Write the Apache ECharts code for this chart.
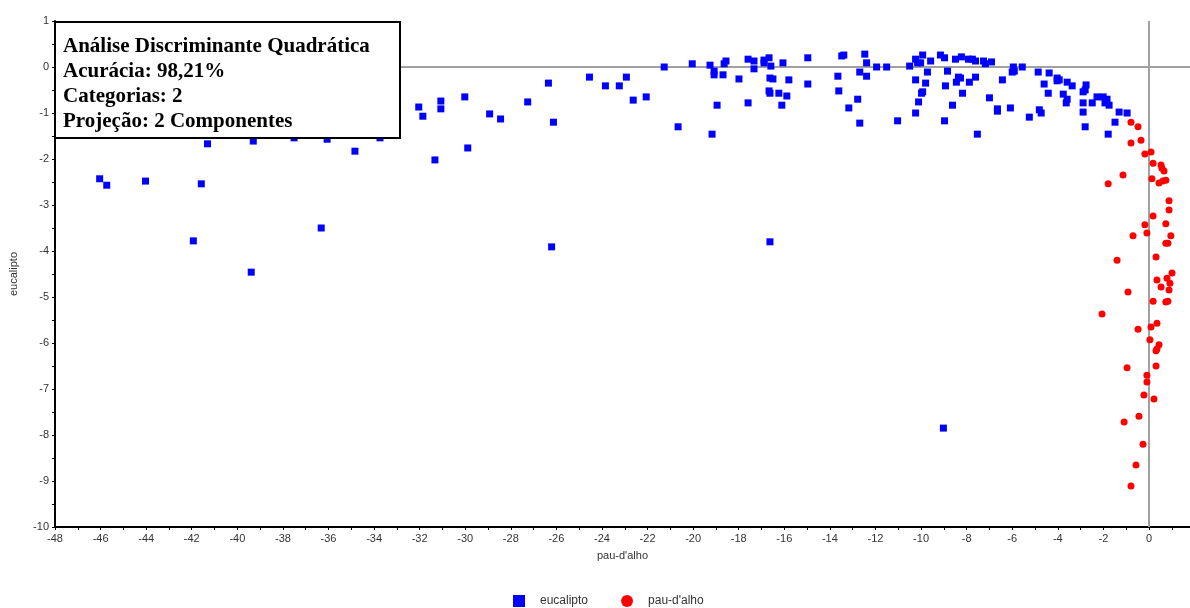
<!DOCTYPE html>
<html>
<head>
<meta charset="utf-8">
<script src="https://cdn.jsdelivr.net/npm/echarts@6/dist/echarts.min.js"></script>
<style>html,body{margin:0;padding:0;background:#fff}#c{width:1190px;height:608px}</style>
</head>
<body>
<div id="c"></div>
<script>
const seriesNames = ["eucalipto", "pau-d'alho"];
const eucalipto = [
[-46.04,-2.43],[-45.73,-2.57],[-44.03,-2.48],[-41.58,-2.54],[-41.93,-3.78],[-39.39,-4.46],[-41.31,-1.67],[-39.30,-1.61],
[-37.51,-1.54],[-36.06,-1.57],[-36.32,-3.50],[-34.84,-1.83],[-33.74,-1.54],[-32.04,-0.87],[-31.86,-1.07],[-31.33,-2.02],
[-31.07,-0.74],[-31.07,-0.91],[-30.02,-0.65],[-29.89,-1.76],[-28.93,-1.02],[-28.45,-1.13],[-27.26,-0.76],[-26.35,-0.35],
[-26.13,-1.20],[-26.21,-3.91],[-24.55,-0.22],[-23.85,-0.41],[-23.24,-0.41],[-22.93,-0.22],[-22.63,-0.72],[-22.06,-0.65],
[-21.27,0.00],[-20.66,-1.30],[-20.04,0.07],[-19.26,0.04],[-19.08,-0.09],[-19.08,-0.17],[-18.95,-0.83],[-19.17,-1.46],
[-18.69,-0.17],[-18.56,0.13],[-18.64,0.07],[-17.99,-0.26],[-17.59,0.17],[-17.33,0.13],[-17.33,-0.04],[-17.59,-0.78],
[-16.89,0.15],[-16.67,0.20],[-16.89,0.09],[-16.59,0.02],[-16.63,-0.24],[-16.50,-0.26],[-16.67,-0.52],[-16.63,-0.57],
[-16.24,-0.57],[-15.89,-0.63],[-16.06,0.09],[-15.80,-0.28],[-16.11,-0.83],[-16.63,-3.80],[-14.97,0.20],[-14.97,-0.37],
[-13.65,-0.20],[-13.61,-0.52],[-13.48,0.24],[-13.39,0.26],[-12.78,-0.70],[-13.17,-0.89],[-12.69,-1.22],[-12.47,0.28],
[-12.39,0.09],[-12.69,-0.11],[-12.39,-0.20],[-11.95,0.00],[-11.51,0.00],[-11.03,-1.17],[-10.50,0.02],[-10.24,-0.28],
[-10.24,0.17],[-10.15,0.09],[-9.93,0.26],[-10.02,0.09],[-9.58,0.13],[-9.72,-0.11],[-9.80,-0.35],[-9.93,-0.54],
[-9.98,-0.57],[-10.11,-0.76],[-10.24,-1.00],[-9.15,0.26],[-8.97,0.20],[-8.84,-0.09],[-8.93,-0.41],[-8.49,0.17],
[-8.23,0.22],[-8.45,-0.33],[-8.36,-0.22],[-8.27,-0.24],[-8.18,-0.57],[-8.62,-0.83],[-8.97,-1.17],[-9.02,-7.85],
[-7.88,-0.33],[-7.92,0.17],[-7.75,0.17],[-7.61,0.13],[-7.53,-1.46],[-7.61,-0.22],[-7.26,0.13],[-7.18,0.07],
[-6.91,0.11],[-6.43,-0.28],[-5.95,0.00],[-5.56,0.00],[-6.00,-0.11],[-5.91,-0.09],[-4.86,-0.11],[-4.38,-0.13],
[-4.03,-0.24],[-3.94,-0.28],[-4.03,-0.30],[-3.59,-0.33],[-3.37,-0.41],[-4.60,-0.37],[-4.42,-0.57],[-3.76,-0.59],
[-3.59,-0.70],[-3.63,-0.78],[-2.76,-0.39],[-2.80,-0.50],[-2.89,-0.54],[-7.00,-0.67],[-6.65,-0.91],[-6.65,-0.96],
[-6.08,-0.89],[-5.25,-1.09],[-4.81,-0.93],[-4.73,-1.00],[-2.89,-0.78],[-2.49,-0.78],[-2.28,-0.65],[-2.01,-0.65],
[-1.84,-0.70],[-1.93,-0.78],[-1.75,-0.83],[-2.89,-0.98],[-2.80,-1.30],[-1.31,-0.98],[-0.96,-1.00],[-1.49,-1.20],
[-1.79,-1.46]
];
const pauDalho = [
[-0.79,-1.20],[-0.48,-1.30],[-0.79,-1.65],[-0.35,-1.59],[-0.18,-1.89],[0.09,-1.85],[0.18,-2.09],[0.53,-2.13],
[0.57,-2.20],[0.66,-2.26],[0.13,-2.43],[-1.14,-2.35],[-1.79,-2.54],[0.44,-2.52],[0.61,-2.48],[0.74,-2.46],
[0.88,-2.91],[0.88,-3.11],[0.18,-3.24],[-0.18,-3.43],[0.74,-3.41],[-0.09,-3.61],[-0.70,-3.67],[0.96,-3.67],
[0.74,-3.83],[0.83,-3.83],[0.31,-4.13],[-1.40,-4.20],[1.01,-4.48],[0.35,-4.63],[0.79,-4.59],[0.92,-4.70],
[0.88,-4.85],[0.53,-4.78],[-0.92,-4.89],[0.18,-5.09],[0.74,-5.11],[0.83,-5.09],[-2.06,-5.37],[0.35,-5.57],
[0.09,-5.65],[-0.48,-5.70],[0.04,-5.93],[0.44,-6.04],[0.35,-6.13],[0.31,-6.17],[0.31,-6.50],[-0.96,-6.54],
[-0.09,-6.70],[-0.09,-6.85],[-0.22,-7.13],[0.22,-7.22],[-1.09,-7.72],[-0.44,-7.59],[-0.26,-8.20],[-0.57,-8.65],
[-0.79,-9.11]
];
const xAxisName = "pau-d'alho";
const yAxisName = "eucalipto";
const infoLines = ["Análise Discriminante Quadrática", "Acurácia: 98,21%", "Categorias: 2", "Projeção: 2 Componentes"];

const chart = echarts.init(document.getElementById('c'), null, {renderer: 'canvas'});
const labelStyle = {color: '#333', fontSize: 11, fontFamily: 'Liberation Sans, Arial, sans-serif'};
chart.setOption({
  animation: false,
  backgroundColor: '#fff',
  grid: {left: 54, right: 0, top: 21, bottom: 81, containLabel: false},
  legend: {
    bottom: -4, left: 508, itemGap: 33, itemWidth: 12, itemHeight: 12,
    textStyle: {...labelStyle, fontSize: 12, padding: [0, 0, 0, 10]},
    data: [{name: seriesNames[0], icon: 'rect'}, {name: seriesNames[1], icon: 'circle'}]
  },
  xAxis: {
    type: 'value', min: -48, max: 1.8, interval: 2,
    name: xAxisName, nameLocation: 'middle', nameGap: 23, nameTextStyle: labelStyle,
    axisLine: {onZero: false, lineStyle: {color: '#000', width: 2}},
    axisTick: {show: true, length: 3, inside: false, lineStyle: {color: '#000'}},
    minorTick: {show: true, splitNumber: 2, length: 3, lineStyle: {color: '#000'}},
    axisLabel: {showMaxLabel: false, margin: 6, ...labelStyle},
    splitLine: {show: false}
  },
  yAxis: {
    type: 'value', min: -10, max: 1, interval: 1,
    name: yAxisName, nameLocation: 'middle', nameGap: 36, nameRotate: 90, nameTextStyle: labelStyle,
    axisLine: {onZero: false, lineStyle: {color: '#000', width: 2}},
    axisTick: {show: true, length: 3, lineStyle: {color: '#000'}},
    minorTick: {show: true, splitNumber: 2, length: 3, lineStyle: {color: '#000'}},
    axisLabel: {margin: 6, ...labelStyle},
    splitLine: {show: false}
  },
  series: [
    {
      name: seriesNames[0], type: 'scatter', symbol: 'rect', symbolSize: 7,
      itemStyle: {color: '#0000ff', opacity: 1}, data: eucalipto, z: 3,
      markLine: {
        silent: true, symbol: 'none', label: {show: false}, z: 1,
        lineStyle: {color: '#a0a0a0', width: 2, type: 'solid', opacity: 1},
        data: [{yAxis: 0}, {xAxis: 0}]
      }
    },
    {
      name: seriesNames[1], type: 'scatter', symbol: 'circle', symbolSize: 7,
      itemStyle: {color: '#ff0000', opacity: 1}, data: pauDalho, z: 3
    }
  ],
  graphic: [
    {type: 'rect', z: 100, zlevel: 1, shape: {x: 55, y: 22, width: 345, height: 116},
     style: {fill: '#fff', stroke: '#000', lineWidth: 2}},
    {type: 'text', z: 101, zlevel: 1, x: 63, y: 34,
     style: {text: infoLines.join('\n'), fill: '#000', lineHeight: 25,
             font: 'bold 21px "Liberation Serif", "Times New Roman", serif'}}
  ]
});
</script>
</body>
</html>
